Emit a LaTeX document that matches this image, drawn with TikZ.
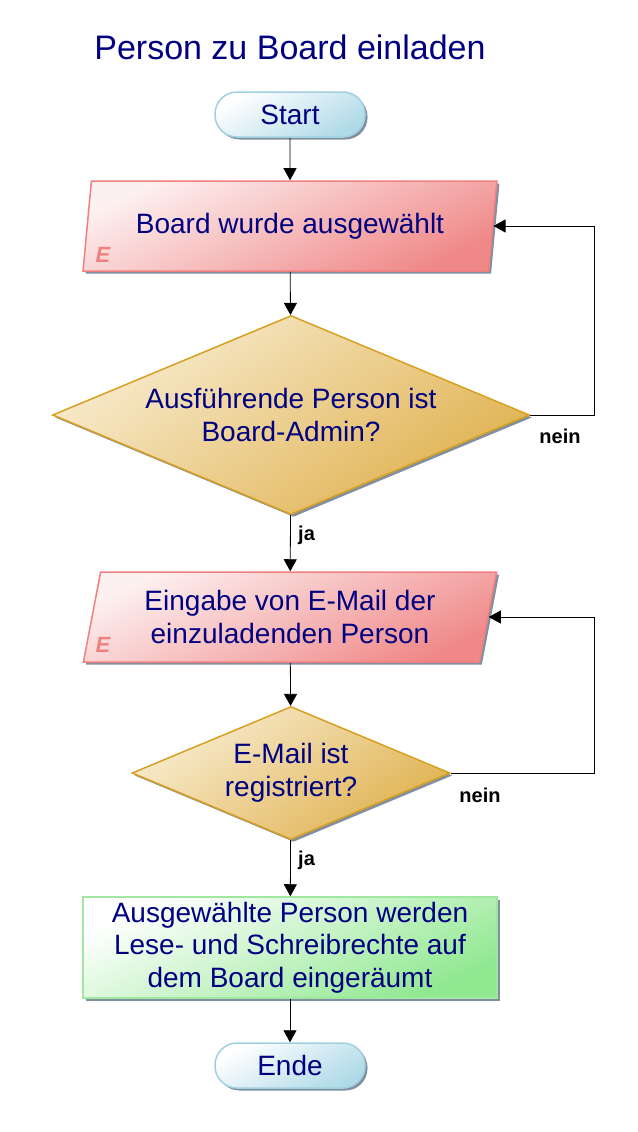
\documentclass[tikz,border=0pt]{standalone}
\usepackage{fontspec}
\setmainfont{Liberation Sans}
\usetikzlibrary{shapes.geometric,arrows.meta,shadows}

\definecolor{txtblue}{RGB}{0,0,128}
\definecolor{shadowgray}{RGB}{128,144,160}
\definecolor{termline}{RGB}{160,208,224}
\definecolor{termfill}{RGB}{176,218,232}
\definecolor{inline}{RGB}{240,128,128}
\definecolor{infill}{RGB}{240,136,136}
\definecolor{intop}{RGB}{253,240,240}
\definecolor{decline}{RGB}{216,160,32}
\definecolor{decfill}{RGB}{224,178,80}
\definecolor{decfilltop}{RGB}{248,236,208}
\definecolor{actline}{RGB}{160,232,160}
\definecolor{actfill}{RGB}{144,232,144}

\tikzset{
  base/.style={draw, line width=1.5pt, text=txtblue, align=center, inner sep=0pt,
    font=\fontsize{28}{32.5}\selectfont,
    drop shadow={shadow xshift=2.5pt, shadow yshift=-2.5pt, fill=shadowgray, opacity=1}},
  terminal/.style={base, rectangle, rounded corners=22pt, minimum width=150pt,
    minimum height=45pt, draw=termline, top color=white, bottom color=termfill,
    shading angle=30},
  inputbox/.style={base, trapezium, trapezium left angle=76, trapezium right angle=104,
    trapezium stretches=true, minimum width=414pt, minimum height=90pt,
    draw=inline, top color=intop, bottom color=infill, shading angle=25},
  decision/.style={base, diamond, draw=decline, top color=decfilltop,
    bottom color=decfill, shading angle=35},
  action/.style={base, rectangle, minimum width=414pt, minimum height=101pt,
    draw=actline, top color=white, bottom color=actfill, shading angle=25},
  flow/.style={-{Triangle[length=12pt,width=13pt]}, line width=0.8pt},
  lbl/.style={font=\fontsize{20}{24}\selectfont\bfseries, inner sep=0pt},
  emark/.style={font=\fontsize{22}{26}\selectfont\bfseries\itshape, text=inline, inner sep=0pt}
}

\begin{document}
\begin{tikzpicture}[x=1pt,y=-1pt]
  \useasboundingbox (0,0) rectangle (637,1132);

  \node[text=txtblue, font=\fontsize{34}{40}\selectfont] (title) at (290,47)
    {Person zu Board einladen};

  \node[terminal] (start) at (290,114.5) {Start};
  \node[inputbox] (inp1) at (290,226) {Board wurde ausgewählt};
  \node[emark] (e1) at (103,255) {E};
  \node[decision, minimum width=477pt, minimum height=199pt, shape aspect=2.4]
    (dec1) at (291,415) {Ausführende Person ist\\Board-Admin?};
  \node[inputbox] (inp2) at (290,617) {Eingabe von E-Mail der\\einzuladenden Person};
  \node[emark] (e2) at (103,645) {E};
  \node[decision, minimum width=318pt, minimum height=133pt, shape aspect=2.4]
    (dec2) at (291,773) {E-Mail ist\\registriert?};
  \node[action] (act) at (290,947.5)
    {Ausgewählte Person werden\\Lese- und Schreibrechte auf\\dem Board eingeräumt};
  \node[terminal] (ende) at (290,1065.5) {Ende};

  % main flow
  \draw[flow] (start) -- (inp1);
  \draw[flow] (inp1) -- (dec1);
  \draw[flow] (dec1) -- (inp2);
  \draw[flow] (inp2) -- (dec2);
  \draw[flow] (dec2) -- (act);
  \draw[flow] (act) -- (ende);

  % loops back
  \draw[flow] (dec1.east) -- ++(64,0) |- (inp1.east);
  \draw[flow] (dec2.east) -- ++(144,0) |- (inp2.east);

  \node[lbl] (nein1) at (560,436) {nein};
  \node[lbl] (nein2) at (480,795) {nein};
  \node[lbl, anchor=west] (ja1) at (298,535) {ja};
  \node[lbl, anchor=west] (ja2) at (298,860) {ja};
\end{tikzpicture}
\end{document}
